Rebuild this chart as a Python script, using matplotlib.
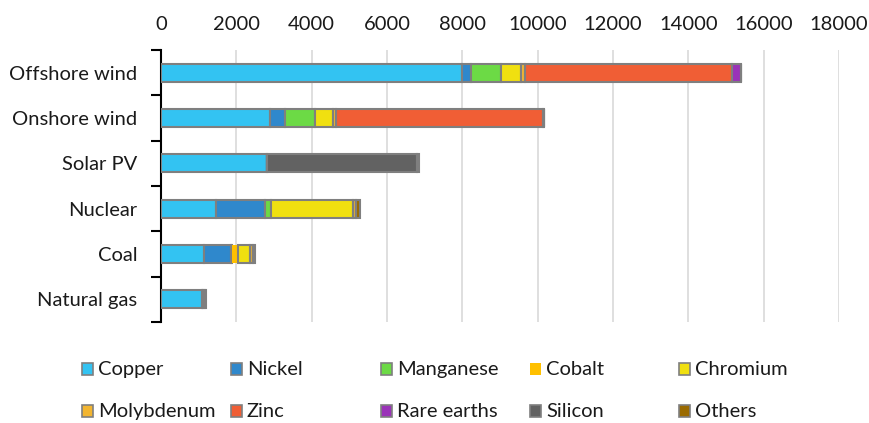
import matplotlib.pyplot as plt
from matplotlib.patches import Rectangle
from matplotlib.ticker import MultipleLocator, FixedLocator
import numpy as np

plt.rcParams['font.family'] = ['Lato', 'DejaVu Sans']

# Mineral use per technology (kg/MW)
technologies = ['Offshore wind', 'Onshore wind', 'Solar PV', 'Nuclear', 'Coal', 'Natural gas']
minerals = ['Copper', 'Nickel', 'Manganese', 'Cobalt', 'Chromium',
            'Molybdenum', 'Zinc', 'Rare earths', 'Silicon', 'Others']

copper = [8000, 2900, 2822, 1473, 1150, 1100]
nickel = [240, 404, 1, 1297, 721, 16]
manganese = [790, 780, 0, 148, 5, 0]
cobalt = [0, 0, 0, 0, 180, 0]
chromium = [525, 470, 0, 2190, 308, 48]
molybdenum = [109, 99, 0, 70, 66, 0]
zinc = [5500, 5500, 0, 0, 0, 0]
rare_earths = [239, 14, 0, 0, 0, 0]
silicon = [0, 0, 3978, 0, 0, 0]
others = [0, 0, 40, 100, 60, 40]

values = [copper, nickel, manganese, cobalt, chromium,
          molybdenum, zinc, rare_earths, silicon, others]

colors = ['#33C3F2', '#2F88CC', '#6CDA45', '#FFC000', '#F0E010',
          '#F2B531', '#F05E35', '#9A33B8', '#626262', '#9A6A00']

text_color = '#1A1A1A'
fsize = 14.5

fig = plt.figure(figsize=(8.7, 4.23), dpi=100)
ax = fig.add_axes([161 / 870, 1 - 322 / 423, 678 / 870, 272 / 423])

y = np.arange(len(technologies))
left = np.zeros(len(technologies))
for name, vals, col in zip(minerals, values, colors):
    vals = np.array(vals, dtype=float)
    # cobalt is drawn without the grey outline
    edge = 'none' if name == 'Cobalt' else '#7F7F7F'
    ax.barh(y, vals, left=left, height=0.4, color=col,
            edgecolor=edge, linewidth=1.5, zorder=3)
    left += vals

ax.set_xlim(0, 18000)
ax.set_ylim(len(technologies) - 0.5, -0.5)
ax.xaxis.set_major_locator(MultipleLocator(2000))
ax.xaxis.tick_top()
ax.tick_params(axis='x', length=0, pad=12, labelsize=fsize, labelcolor=text_color)
ax.grid(axis='x', color='#D9D9D9', linewidth=1.2, zorder=0)

ax.set_yticks(y)
ax.set_yticklabels(technologies)
ax.yaxis.set_minor_locator(FixedLocator(np.arange(-0.5, len(technologies), 1)))
ax.tick_params(axis='y', which='major', length=0, pad=17, labelsize=fsize, labelcolor=text_color)
ax.tick_params(axis='y', which='minor', length=7, width=1.5, color='black')

for side in ['top', 'right', 'bottom']:
    ax.spines[side].set_visible(False)
ax.spines['left'].set_linewidth(1.5)
ax.spines['left'].set_color('black')

# legend laid out on an even grid, 5 per row
col_x = [82, 231, 381, 530, 679]
row_y = [369, 411]
for i, (name, col) in enumerate(zip(minerals, colors)):
    cx = col_x[i % 5]
    cy = row_y[i // 5]
    edge = 'none' if name == 'Cobalt' else '#7F7F7F'
    fig.patches.append(Rectangle((cx / 870, 1 - (cy + 6) / 423), 11 / 870, 12 / 423,
                                 transform=fig.transFigure, facecolor=col,
                                 edgecolor=edge, linewidth=1.2))
    fig.text((cx + 16) / 870, 1 - cy / 423, name, fontsize=fsize,
             color=text_color, va='center', ha='left')

fig.savefig('out.png', dpi=100)
